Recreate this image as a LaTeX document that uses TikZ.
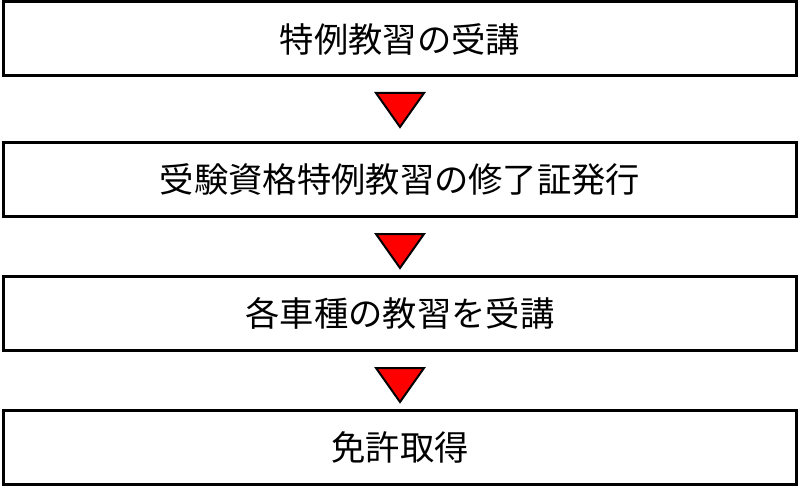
\documentclass[tikz,border=0pt]{standalone}
\usepackage{fontspec}
\newfontfamily\jpfont{Noto Sans CJK JP}
\begin{document}
\begin{tikzpicture}[x=1pt,y=-1pt,
  stepbox/.style={draw=black,line width=3pt,fill=white,minimum width=793pt,minimum height=74pt,inner sep=0pt,font=\jpfont\fontsize{34.3}{38}\selectfont,text=black},
  downtri/.style={fill=red,draw=black,line width=2pt,line join=miter}]
\useasboundingbox (0,0) rectangle (800,489);
\node[stepbox] (b1) at (400,39) {特例教習の受講};
\node[stepbox] (b2) at (400,179.5) {受験資格特例教習の修了証発行};
\node[stepbox] (b3) at (400,313.5) {各車種の教習を受講};
\node[stepbox] (b4) at (400,447.5) {免許取得};
\coordinate (t1) at (400,110);
\coordinate (t2) at (400,251);
\coordinate (t3) at (400,385);
\foreach \t in {t1,t2,t3}{
  \draw[downtri] ([shift={(-24,-17)}]\t) -- ([shift={(24,-17)}]\t) -- ([shift={(0,17)}]\t) -- cycle;
}
\end{tikzpicture}
\end{document}
